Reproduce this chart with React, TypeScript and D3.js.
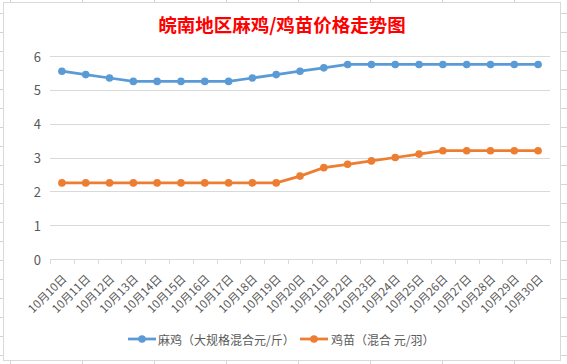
import React from "react";
import * as d3 from "d3";

const categories = ["10月10日","10月11日","10月12日","10月13日","10月14日","10月15日","10月16日","10月17日","10月18日","10月19日","10月20日","10月21日","10月22日","10月23日","10月24日","10月25日","10月26日","10月27日","10月28日","10月29日","10月30日"];
const majiValues = [5.55,5.45,5.35,5.25,5.25,5.25,5.25,5.25,5.35,5.45,5.55,5.65,5.75,5.75,5.75,5.75,5.75,5.75,5.75,5.75,5.75];
const jimiaoValues = [2.25,2.25,2.25,2.25,2.25,2.25,2.25,2.25,2.25,2.25,2.45,2.7,2.8,2.9,3.0,3.1,3.2,3.2,3.2,3.2,3.2];
const yTicks = [0,1,2,3,4,5,6];
const seriesNames = ["麻鸡（大规格混合元/斤）","鸡苗（混合 元/羽）"];
const title = "皖南地区麻鸡/鸡苗价格走势图";

const W = 567, H = 364;
const FONT = "'Noto Sans CJK SC', 'Noto Sans', sans-serif";

export default function App() {
  const x = d3.scaleBand<string>().domain(categories).range([50, 550]);
  const y = d3.scaleLinear().domain([0, 6]).range([259, 56]);
  const cx = (c: string) => (x(c) as number) + x.bandwidth() / 2;
  const line = d3.line<number>().x((_, i) => cx(categories[i])).y(v => y(v));
  const series = [
    { name: seriesNames[0], values: majiValues, color: "#5B9BD5" },
    { name: seriesNames[1], values: jimiaoValues, color: "#ED7D31" },
  ];
  const colLines = d3.range(10, 567, 72);
  const rowLines = d3.range(13, 364, 19);
  const bounds = [50, ...categories.map(c => (x(c) as number) + x.bandwidth())];
  const legendItems = [
    { lx: 128, tx: 158 },
    { lx: 300, tx: 331 },
  ];
  return (
    <div style={{ position: "fixed", left: 0, top: 0 }}>
      <svg width={W} height={H} style={{ display: "block", fontFamily: FONT }}>
        <rect x={0} y={0} width={W} height={H} fill="#fff" />
        {colLines.map((c, i) => (
          <line key={"c" + i} x1={c + 0.5} x2={c + 0.5} y1={0} y2={H} stroke="#D4D4D4" strokeWidth={1} />
        ))}
        {rowLines.map((r, i) => (
          <line key={"r" + i} x1={0} x2={W} y1={r + 0.5} y2={r + 0.5} stroke="#D4D4D4" strokeWidth={1} />
        ))}
        <rect x={3.5} y={2.5} width={557} height={358} fill="#fff" stroke="#D9D9D9" strokeWidth={1} />
        <text x={282} y={24} textAnchor="middle" dominantBaseline="central" fill="#FF0000" fontSize={18.5} fontWeight="bold">{title}</text>
        {yTicks.map(t => (
          <g key={"y" + t}>
            <line x1={50} x2={550} y1={Math.round(y(t)) + 0.5} y2={Math.round(y(t)) + 0.5} stroke="#D9D9D9" strokeWidth={1} />
            <text x={41} y={y(t)} textAnchor="end" dominantBaseline="central" fill="#595959" fontSize={13}>{t}</text>
          </g>
        ))}
        {bounds.map((b, i) => (
          <line key={"t" + i} x1={Math.round(b) + 0.5} x2={Math.round(b) + 0.5} y1={259} y2={264} stroke="#D9D9D9" strokeWidth={1} />
        ))}
        {categories.map(c => (
          <text key={c} transform={`translate(${cx(c) + 2},${276}) rotate(-45)`} textAnchor="end" dominantBaseline="central" fill="#595959" fontSize={11.5}>{c}</text>
        ))}
        {series.map(s => (
          <g key={s.name}>
            <path d={line(s.values) || ""} fill="none" stroke={s.color} strokeWidth={2.75} strokeLinejoin="round" />
            {s.values.map((v, i) => (
              <circle key={i} cx={cx(categories[i])} cy={y(v)} r={3.8} fill={s.color} />
            ))}
          </g>
        ))}
        {series.map((s, i) => (
          <g key={"l" + i}>
            <line x1={legendItems[i].lx} x2={legendItems[i].lx + 28} y1={339} y2={339} stroke={s.color} strokeWidth={2.75} />
            <circle cx={legendItems[i].lx + 14} cy={339} r={3.8} fill={s.color} />
            <text x={legendItems[i].tx} y={339} dominantBaseline="central" fill="#595959" fontSize={12}>{s.name}</text>
          </g>
        ))}
      </svg>
    </div>
  );
}
